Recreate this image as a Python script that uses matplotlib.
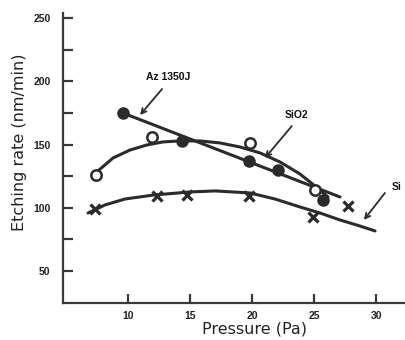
import matplotlib
matplotlib.use("Agg")
import matplotlib.pyplot as plt

# ---- data ----
az_x = [9.56, 14.33, 19.74, 22.08, 25.72]
az_y = [175.0, 152.9, 137.0, 129.9, 106.1]
az_line_x = [9.56, 27.09]
az_line_y = [175.0, 108.5]

sio2_x = [7.38, 11.91, 19.82, 25.07]
sio2_y = [125.9, 156.0, 151.3, 114.0]
sio2_curve_x = [7.54, 8.76, 10.13, 11.50, 12.79, 14.17, 15.78, 17.40, 19.01, 20.63, 22.25, 23.86, 25.07, 26.12]
sio2_curve_y = [129.1, 139.4, 145.7, 149.7, 152.1, 152.9, 152.9, 151.3, 148.1, 143.4, 136.2, 126.7, 117.2, 108.5]

si_x = [7.30, 12.31, 14.73, 19.74, 24.91, 27.74]
si_y = [99.0, 109.3, 110.0, 109.3, 92.7, 101.4]
si_curve_x = [6.74, 8.11, 9.73, 11.99, 14.98, 17.00, 19.82, 21.84, 23.86, 25.48, 27.09, 28.71, 29.92]
si_curve_y = [95.8, 102.2, 106.9, 110.0, 112.5, 113.3, 111.7, 106.9, 100.6, 95.8, 90.3, 85.5, 81.6]

x_ticks = [10, 15, 20, 25, 30]
y_ticks = [50, 100, 150, 200, 250]
y_minor = [75, 125, 175, 225]

ink = "#2b2b2b"
axc = "#3a3a3a"

fig = plt.figure(figsize=(4.05, 3.4), dpi=100)
ax = fig.add_axes([63/405, 37/340, 342/405, 290/340])
ax.set_xlim(4.72, 32.34)
ax.set_ylim(24.55, 254.2)

for s in ["top", "right"]:
    ax.spines[s].set_visible(False)
for s in ["left", "bottom"]:
    ax.spines[s].set_color(axc)
    ax.spines[s].set_linewidth(1.6)

ax.set_xticks(x_ticks)
ax.set_yticks(y_ticks)
ax.set_yticks(y_minor, minor=True)
ax.tick_params(axis="y", which="both", direction="in", length=7, width=1.6, color=axc, pad=9)
ax.tick_params(axis="x", which="both", direction="in", length=6.5, width=1.6, color=axc, pad=6)
for lab in ax.get_xticklabels() + ax.get_yticklabels():
    lab.set_fontfamily("Liberation Sans")
    lab.set_fontweight("bold")
    lab.set_fontsize(7.5)
    lab.set_color("#222222")

# curves
ax.plot(az_line_x, az_line_y, color=ink, lw=2.2, solid_capstyle="round")
ax.plot(sio2_curve_x, sio2_curve_y, color=ink, lw=2.2, solid_capstyle="round")
ax.plot(si_curve_x, si_curve_y, color=ink, lw=2.2, solid_capstyle="round")

# markers
ax.plot(az_x, az_y, "o", ms=8, color=ink, mec=ink)
ax.plot(sio2_x, sio2_y, "o", ms=7.5, mfc="white", mec=ink, mew=1.8)
ax.plot(si_x, si_y, "x", ms=7.5, color=ink, mew=2.3)

# annotations
tfont = dict(fontfamily="Liberation Sans", fontweight="bold", fontsize=7.5, color="#111111")
ap = dict(arrowstyle="->", color=ink, lw=1.3, shrinkA=0, shrinkB=0, mutation_scale=9)
ax.annotate("", xy=(10.94, 173.4), xytext=(12.72, 194.0), arrowprops=ap)
ax.text(13.2, 203.5, "Az 1350J", ha="center", va="center", **tfont)
ax.annotate("", xy=(21.03, 139.4), xytext=(23.2, 164.7), arrowprops=ap)
ax.text(23.6, 173.4, "SiO2", ha="center", va="center", **tfont)
ax.annotate("", xy=(29.02, 90.3), xytext=(30.72, 111.7), arrowprops=ap)
ax.text(31.25, 116.4, "Si", ha="left", va="center", clip_on=False, **tfont)

ax.set_xlabel("Pressure (Pa)", fontsize=11.5, color="#222222")
ax.set_ylabel("Etching rate (nm/min)", fontsize=11.5, color="#222222")
ax.xaxis.set_label_coords((255-63)/342, (303-321)/290)
ax.yaxis.set_label_coords((27-63)/342, (303-142)/290)

fig.savefig("out.png", dpi=100)
